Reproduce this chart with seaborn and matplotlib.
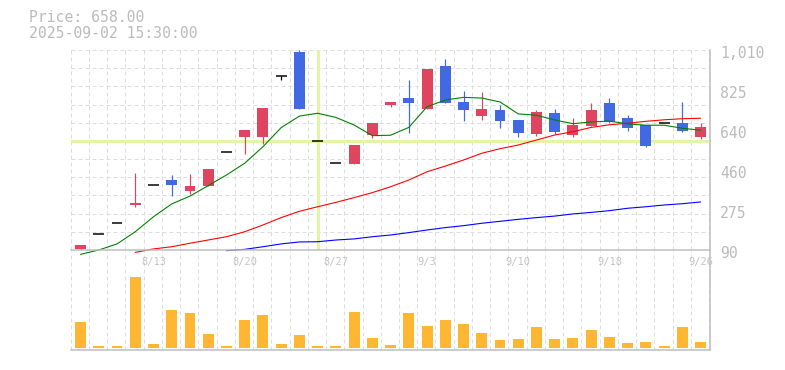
import numpy as np
import pandas as pd
import matplotlib
matplotlib.use("Agg")
import matplotlib.pyplot as plt
import matplotlib.transforms as mtransforms
import seaborn as sns

# ---------------- data ----------------
dates = ['8/6', '8/7', '8/8', '8/12', '8/13', '8/14', '8/15', '8/18', '8/19', '8/20',
         '8/21', '8/22', '8/25', '8/26', '8/27', '8/28', '8/29', '9/1', '9/2', '9/3',
         '9/4', '9/5', '9/8', '9/9', '9/10', '9/11', '9/12', '9/16', '9/17', '9/18',
         '9/19', '9/22', '9/24', '9/25', '9/26']
opens = [95, 164, 214, 298, 387, 412, 363, 386, 539, 611,
         611, 890, 1001, 591, 488, 487, 620, 758, 789, 739,
         936, 771, 706, 734, 688, 624, 722, 619, 660, 766,
         697, 665, 674, 674, 610]
highs = [113, 164, 214, 444, 387, 435, 440, 463, 539, 642,
         743, 890, 1010, 591, 488, 573, 674, 771, 872, 923,
         969, 821, 817, 757, 688, 734, 739, 696, 765, 788,
         711, 665, 674, 771, 673]
lows = [90, 164, 214, 289, 387, 340, 348, 386, 539, 533,
        578, 872, 740, 591, 488, 487, 607, 749, 630, 739,
        766, 683, 688, 653, 611, 614, 624, 611, 660, 676,
        639, 565, 674, 634, 601]
closes = [113, 164, 214, 308, 387, 390, 384, 463, 539, 642,
          743, 890, 740, 591, 488, 573, 674, 771, 766, 923,
          766, 734, 739, 685, 630, 726, 634, 665, 734, 680,
          653, 568, 674, 637, 658]
ma5 = [70, 90, 118, 174, 243, 302, 338, 386, 435, 489,
       565, 653, 706, 719, 700, 665, 616, 618, 654, 749,
       780, 792, 789, 771, 716, 710, 688, 671, 679, 683,
       670, 664, 664, 650, 641]
ma25 = [np.nan, np.nan, np.nan, 79, 95, 105, 121, 136, 151, 174,
        205, 239, 268, 289, 309, 331, 354, 381, 412, 450,
        476, 504, 535, 556, 573, 596, 619, 634, 654, 666,
        673, 682, 689, 694, 696]
ma75 = [np.nan] * 8 + [87, 93, 105, 118, 127, 128, 136, 141, 151, 159,
                       170, 182, 193, 202, 213, 222, 231, 239, 246, 256,
                       263, 271, 282, 289, 297, 303, 311]
volume = [26, 2, 2, 71, 4, 38, 35, 14, 2, 28,
          33, 4, 13, 2, 2, 36, 10, 3, 35, 22,
          28, 24, 15, 8, 9, 21, 9, 10, 18, 11,
          5, 6, 2, 21, 6]
ytick_vals = [90, 274, 458, 642, 826, 1010]
ytick_labels = ['90', '275', '460', '640', '825', '1,010']
xlabel_idx = [4, 9, 14, 19, 24, 29, 34]
cross_idx = 13
cross_price = 591
title_lines = ['Price: 658.00', '2025-09-02 15:30:00']

# ---------------- style ----------------
sns.set_theme(style="white")
plt.rcParams['font.family'] = ['DejaVu Sans Mono', 'DejaVu Sans']

RED = '#e0455f'
BLUE = '#4169e1'
ORANGE = '#ffb733'
GRID = '#dddddd'
AXIS = '#bdbdbd'
TXT = '#bbbbbb'
CROSS = '#e3f3a8'
PX = 0.72  # one pixel in points at dpi 100

W, H = 785, 370
fig = plt.figure(figsize=(W / 100, H / 100), dpi=100)
fig.patch.set_facecolor('white')

left_px, right_px = 70.7, 710.3
ax = fig.add_axes([left_px / W, 1 - 250 / H, (right_px - left_px) / W, 200 / H])
axv = fig.add_axes([left_px / W, 1 - 350 / H, (right_px - left_px) / W, 99 / H])
ax.set_zorder(3)
axv.set_zorder(1)
ax.patch.set_alpha(0)

n = len(dates)
idx = np.arange(n)
df = pd.DataFrame({'i': idx, 'o': opens, 'h': highs, 'l': lows, 'c': closes,
                   'ma5': ma5, 'ma25': ma25, 'ma75': ma75, 'vol': volume})

XL = (-0.54, 34.53)
grid_x = np.arange(n + 1) - 0.54

# ---------------- volume panel ----------------
sns.barplot(data=df, x='i', y='vol', ax=axv, color=ORANGE, saturation=1,
            width=0.6, errorbar=None, linewidth=0)
axv.set_xlim(*XL)
axv.set_ylim(-2, 97)
axv.set_xticks([])
axv.set_yticks([])
axv.set_xlabel('')
axv.set_ylabel('')
axv.grid(False)
for gx in grid_x:
    axv.axvline(gx, color=GRID, lw=1 * PX, ls=(0, (4, 3)), zorder=0)
for s in ['left', 'top']:
    axv.spines[s].set_visible(False)
for s in ['right', 'bottom']:
    axv.spines[s].set_color(AXIS)
    axv.spines[s].set_linewidth(1.5 * PX)

# ---------------- price panel ----------------
ax.set_xlim(*XL)
ax.set_ylim(90, 1010)
for gx in grid_x:
    ax.axvline(gx, color=GRID, lw=1 * PX, ls=(0, (4, 3)), zorder=0)
for gy in np.linspace(90, 1010, 12):
    ax.axhline(gy, color=GRID, lw=1 * PX, ls=(0, (4, 3)), zorder=0)

# crosshair
ax.axhline(cross_price, color=CROSS, lw=3 * PX, zorder=1)
ax.axvline(cross_idx, color=CROSS, lw=3 * PX, zorder=1)

# candles
colors = [RED if c > o else (BLUE if c < o else 'black') for o, c in zip(opens, closes)]
ax.vlines(idx, lows, highs, colors=colors, lw=1.2 * PX, zorder=4)
body_bottom = [min(o, c) for o, c in zip(opens, closes)]
body_h = [abs(c - o) for o, c in zip(opens, closes)]
mask = [h > 0 for h in body_h]
ax.bar(idx[mask], np.array(body_h)[mask], bottom=np.array(body_bottom)[mask],
       width=0.6, color=np.array(colors)[mask], linewidth=0, zorder=5)
flat = [not m for m in mask]
ax.hlines(np.array(closes)[flat], idx[flat] - 0.3, idx[flat] + 0.3,
          colors='black', lw=1.5 * PX, zorder=5)

# moving averages
sns.lineplot(data=df, x='i', y='ma75', ax=ax, color='#0000ff', lw=1.1 * PX, zorder=6, clip_on=False)
sns.lineplot(data=df, x='i', y='ma25', ax=ax, color='#ff0000', lw=1.1 * PX, zorder=6, clip_on=False)
sns.lineplot(data=df, x='i', y='ma5', ax=ax, color='#008000', lw=1.1 * PX, zorder=6, clip_on=False)

ax.set_xticks([])
ax.set_yticks([])
ax.set_xlabel('')
ax.set_ylabel('')
ax.grid(False)
for s in ['left', 'top']:
    ax.spines[s].set_visible(False)
for s in ['right', 'bottom']:
    ax.spines[s].set_color(AXIS)
    ax.spines[s].set_linewidth(1.5 * PX)
    ax.spines[s].set_zorder(7)

# right-hand price labels
ytrans = mtransforms.offset_copy(ax.get_yaxis_transform(), fig=fig, x=10, y=-3, units='dots')
for v, lab in zip(ytick_vals, ytick_labels):
    ax.text(1.0, v, lab, transform=ytrans, ha='left', va='center',
            fontsize=10.6, color=TXT, clip_on=False)

# date labels
xtrans = mtransforms.offset_copy(ax.get_xaxis_transform(), fig=fig, x=0, y=-12, units='dots')
for i in xlabel_idx:
    ax.text(i, 0, dates[i], transform=xtrans, ha='center', va='center',
            fontsize=7.5, color='#c4c4c4', clip_on=False, zorder=10)

# header text
fig.text(29 / W, 1 - 17.7 / H, title_lines[0], ha='left', va='center', fontsize=10.6, color=TXT)
fig.text(29 / W, 1 - 33 / H, title_lines[1], ha='left', va='center', fontsize=10.6, color=TXT)

fig.savefig('out.png', dpi=100)
